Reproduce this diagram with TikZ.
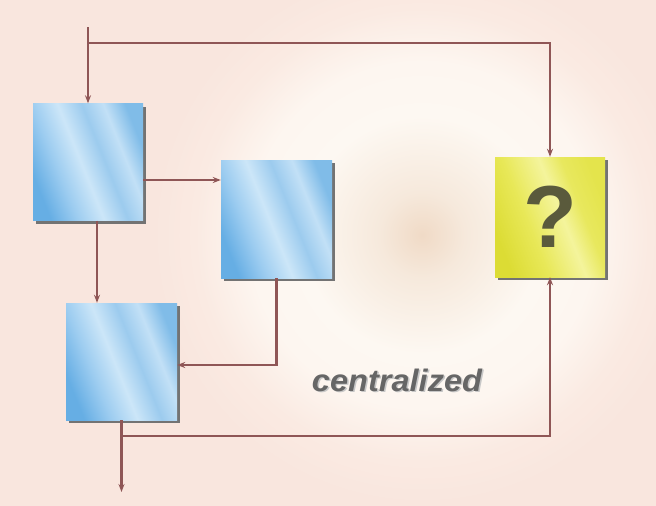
\documentclass[tikz,border=0pt]{standalone}
\usepackage{fontspec}
\setmainfont{Liberation Sans}
\usetikzlibrary{arrows.meta,shadows}

\definecolor{wire}{HTML}{8F5656}
\definecolor{bgpink}{HTML}{F9E6DE}
\definecolor{qmark}{HTML}{5A5A3C}
\definecolor{labelgray}{HTML}{666666}

% colours of the glassy fills
\definecolor{bA}{HTML}{66AEE4}
\definecolor{bB}{HTML}{9CCCF0}
\definecolor{bC}{HTML}{CCE6F8}
\definecolor{bD}{HTML}{9CCBEE}
\definecolor{bE}{HTML}{C2E0F6}
\definecolor{bG}{HTML}{80BCE8}
\definecolor{yA}{HTML}{DCDC34}
\definecolor{yB}{HTML}{E8E858}
\definecolor{yC}{HTML}{F4F49C}
\definecolor{yD}{HTML}{E8E85E}
\definecolor{yE}{HTML}{E4E44C}
\definecolor{gA}{HTML}{F0DAC6}
\definecolor{gB}{HTML}{F6E9DC}
\definecolor{gC}{HTML}{FDF8F2}
\definecolor{gD}{HTML}{FDF6F0}
\definecolor{gE}{HTML}{FAEAE2}

% glassy blue and yellow fills (the visible part of a shading is 25bp..75bp)
\pgfdeclarehorizontalshading{blueglass}{100bp}{
  color(0bp)=(bA); color(25bp)=(bA);
  color(36bp)=(bB); color(47bp)=(bC);
  color(57bp)=(bD); color(66bp)=(bE);
  color(75bp)=(bG); color(100bp)=(bG)}
\pgfdeclarehorizontalshading{yellowglass}{100bp}{
  color(0bp)=(yA); color(25bp)=(yA);
  color(40bp)=(yB); color(55bp)=(yC);
  color(64bp)=(yD); color(75bp)=(yE);
  color(100bp)=(yE)}
% soft glow behind the picture (the path spans 0bp..25bp of the radius)
\pgfdeclareradialshading{glow}{\pgfpoint{0bp}{0bp}}{
  color(0bp)=(gA); color(4bp)=(gB);
  color(11bp)=(gC); color(16bp)=(gD);
  color(21bp)=(gE); color(25bp)=(bgpink); color(50bp)=(bgpink)}

\tikzset{
  block/.style={minimum width=110pt, minimum height=117pt, inner sep=0pt,
    shading=blueglass, shading angle=22,
    drop shadow={opacity=1, fill=black!55, shadow xshift=3pt, shadow yshift=-3pt}},
  qblock/.style={block, shading=yellowglass},
  wire/.style={draw=wire, line width=2.6pt},
  flow/.style={wire, -{Stealth[length=8pt,width=6pt]}},
}

\begin{document}
\begin{tikzpicture}[x=1pt,y=-1pt]
  \useasboundingbox (0,0) rectangle (656,506);
  \fill[bgpink] (0,0) rectangle (656,506);
  \shade[shading=glow] (422,235) circle (270);

  % blocks
  \node[block] (a) at (88,162) {};
  \node[block, minimum width=111pt, minimum height=118pt] (b) at (276.5,219) {};
  \node[block, minimum width=111pt] (c) at (121.5,361.5) {};
  \node[qblock, minimum height=120pt] (q) at (550,217)
    {\bfseries\fontsize{88}{88}\selectfont\color{qmark}?};

  % helper points for the wiring
  \coordinate (in) at (88,27);
  \coordinate (top) at (0,43);
  \coordinate (ab) at (0,180);
  \coordinate (ac) at (97,0);
  \coordinate (bc) at (0,365);
  \coordinate (cq) at (0,436);
  \coordinate (out) at (121.5,492);

  % connectors
  \draw[flow] (in) -- (a.north);
  \draw[flow] (in |- top) -- (q.north |- top) -- (q.north);
  \draw[flow] (a.east |- ab) -- (b.west |- ab);
  \draw[flow] (a.south -| ac) -- (c.north -| ac);
  \draw[flow] (b.south) |- (c.east |- bc);
  \draw[flow] (c.south) -- (out);
  \draw[flow] (c.south |- cq) -| (q.south);

  % caption
  \node[text=black!22, font=\bfseries\itshape\fontsize{31}{31}\selectfont, xscale=1.05]
    (capshadow) at (398.5,381.5) {centralized};
  \node[text=labelgray, font=\bfseries\itshape\fontsize{31}{31}\selectfont, xscale=1.05]
    (cap) at (397,380) {centralized};
\end{tikzpicture}
\end{document}
